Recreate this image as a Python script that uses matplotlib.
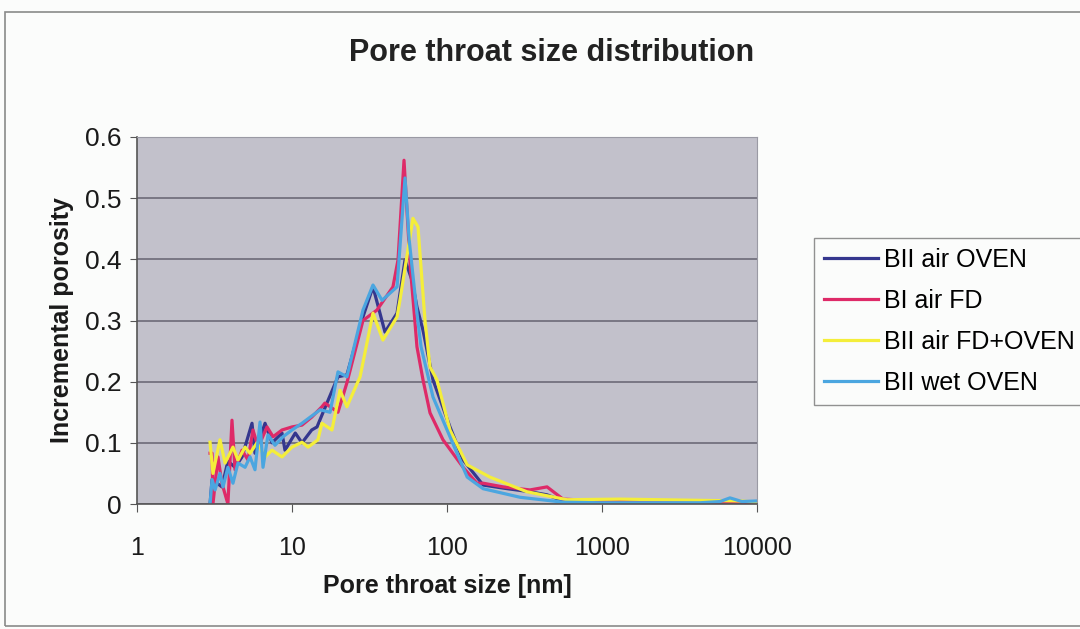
import matplotlib
matplotlib.use("Agg")
import matplotlib.pyplot as plt
from matplotlib.patches import Rectangle
from matplotlib.ticker import FixedLocator, NullLocator

plt.rcParams['font.family'] = ['Liberation Sans', 'DejaVu Sans']

# pore throat size [nm] and incremental porosity
x_air_oven = [2.96, 3.05, 3.53, 3.86, 4.29, 4.76, 5.52, 5.77, 6.70, 7.43, 8.62, 9.01,
              10.5, 11.6, 13.4, 14.5, 16.8, 19.8, 22.6, 28.7, 33.3, 39.8, 47.6, 53.6,
              59.4, 64.0, 70.0, 81.2, 104.5, 127, 171, 230, 343, 442, 560, 971, 2000,
              4290, 7770, 10000]
y_air_oven = [0.0, 0.04, 0.028, 0.07, 0.06, 0.077, 0.132, 0.083, 0.132, 0.10, 0.116, 0.088,
              0.116, 0.10, 0.121, 0.126, 0.165, 0.208, 0.211, 0.306, 0.355, 0.281, 0.312, 0.399,
              0.366, 0.322, 0.284, 0.203, 0.126, 0.072, 0.031, 0.026, 0.020, 0.015, 0.005, 0.003, 0.003,
              0.002, 0.003, 0.003]

x_bi_fd = [2.96, 3.05, 3.09, 3.33, 3.53, 3.86, 4.10, 4.29, 4.76, 5.20, 5.60, 6.05, 6.90,
           7.55, 8.62, 10.0, 11.6, 13.4, 15.6, 16.3, 19.8, 22.6, 28.7, 35.3, 44.8, 48.3,
           52.8, 58.0, 62.0, 64.0, 70.0, 77.7, 94.2, 127, 156, 171, 230, 343, 442, 560,
           971, 2000, 5000, 10000]
y_bi_fd = [0.083, 0.083, 0.0, 0.077, 0.034, 0.0, 0.137, 0.056, 0.088, 0.072, 0.121, 0.093, 0.126,
           0.11, 0.121, 0.126, 0.129, 0.142, 0.159, 0.165, 0.15, 0.198, 0.30, 0.317, 0.355, 0.399,
           0.562, 0.387, 0.30, 0.257, 0.203, 0.149, 0.105, 0.06, 0.034, 0.034, 0.028, 0.023, 0.028, 0.008,
           0.005, 0.003, 0.003, 0.003]

x_fd_oven = [2.96, 3.09, 3.43, 3.70, 4.16, 4.48, 4.98, 5.36, 5.95, 6.70, 7.43, 8.62, 10.0,
             11.6, 12.7, 14.7, 15.6, 18.1, 20.4, 22.6, 27.5, 33.3, 38.6, 47.6, 49.7, 60.3,
             65.0, 72.1, 77.7, 86.1, 104.5, 135, 189, 328, 594, 1306, 4290, 7770, 10000]
y_fd_oven = [0.101, 0.05, 0.105, 0.067, 0.093, 0.072, 0.093, 0.083, 0.10, 0.077, 0.088, 0.077, 0.093,
             0.101, 0.093, 0.105, 0.132, 0.121, 0.186, 0.159, 0.208, 0.312, 0.268, 0.306, 0.333, 0.467,
             0.453, 0.30, 0.224, 0.203, 0.121, 0.064, 0.044, 0.020, 0.007, 0.008, 0.006, 0.005, 0.003]

x_wet_oven = [2.96, 3.05, 3.19, 3.43, 3.59, 3.86, 4.16, 4.48, 4.98, 5.36, 5.77, 6.22, 6.50,
              7.00, 7.77, 8.75, 10.0, 11.6, 13.1, 15.2, 17.6, 19.8, 22.6, 28.7, 33.3, 38.1,
              47.6, 53.6, 57.0, 64.0, 68.0, 81.2, 104.5, 135, 171, 296, 560, 971, 4290,
              5770, 6690, 8000, 10000]
y_wet_oven = [0.0, 0.04, 0.023, 0.05, 0.028, 0.06, 0.034, 0.067, 0.06, 0.077, 0.056, 0.134, 0.06,
              0.113, 0.096, 0.11, 0.121, 0.132, 0.142, 0.154, 0.15, 0.216, 0.208, 0.317, 0.358, 0.333,
              0.355, 0.533, 0.432, 0.312, 0.257, 0.175, 0.11, 0.044, 0.025, 0.011, 0.003, 0.002, 0.002,
              0.004, 0.01, 0.004, 0.005]

series = [
    ("BII air OVEN", x_air_oven, y_air_oven, "#35378e"),
    ("BI air FD", x_bi_fd, y_bi_fd, "#de2a68"),
    ("BII air FD+OVEN", x_fd_oven, y_fd_oven, "#f4ee3a"),
    ("BII wet OVEN", x_wet_oven, y_wet_oven, "#4ba6e0"),
]

x_ticks = [1, 10, 100, 1000, 10000]
y_ticks = [0, 0.1, 0.2, 0.3, 0.4, 0.5, 0.6]

fig = plt.figure(figsize=(10.8, 6.29), dpi=100)
fig.patch.set_facecolor("#fbfcfb")

# outer chart border
fig.patches.append(Rectangle((5 / 1080, 3 / 629), 1.0, 614 / 629, transform=fig.transFigure,
                             fill=False, edgecolor="#8a8a8a", linewidth=1.2))

ax = fig.add_axes([137 / 1080, 1 - 504 / 629, 620 / 1080, 367 / 629])
ax.set_facecolor("#c2c1cb")

for label, xs, ys, col in series:
    ax.plot(xs, ys, color=col, linewidth=2.3, label=label)

ax.set_xscale("log")
ax.set_xlim(1, 10000)
ax.set_ylim(0, 0.6)
ax.xaxis.set_major_locator(FixedLocator(x_ticks))
ax.xaxis.set_minor_locator(NullLocator())
ax.set_xticklabels([str(v) for v in x_ticks])
ax.set_yticks(y_ticks)
ax.set_yticklabels(["0", "0.1", "0.2", "0.3", "0.4", "0.5", "0.6"])
ax.tick_params(axis="x", labelsize=18, length=6, pad=17, color="#555555", labelcolor="#1a1a1a")
ax.tick_params(axis="y", labelsize=19, length=5, pad=6, color="#555555", labelcolor="#1a1a1a")

ax.yaxis.grid(True, color="#6c6a78", linewidth=1.2)
ax.set_axisbelow(True)
for s in ["top", "right"]:
    ax.spines[s].set_color("#9a9aa4")
for s in ["left", "bottom"]:
    ax.spines[s].set_color("#555555")
    ax.spines[s].set_linewidth(1.2)

ax.set_ylabel("Incremental porosity", fontsize=18, fontweight="bold", labelpad=8, color="#1a1a1a")
ax.set_xlabel("Pore throat size [nm]", fontsize=18, fontweight="bold", labelpad=10, color="#1a1a1a")

fig.text(552 / 1080, 1 - 53 / 629, "Pore throat size distribution", fontsize=22,
         fontweight="bold", ha="center", va="center", color="#222222")

leg = ax.legend(loc="upper left", bbox_to_anchor=(814 / 1080, 1 - 238 / 629),
                bbox_transform=fig.transFigure, fontsize=18, frameon=True,
                fancybox=False, edgecolor="#777777", handlelength=2.15,
                handletextpad=0.25, labelspacing=0.68, borderpad=0.4, borderaxespad=0)
leg.get_frame().set_linewidth(1.0)
leg.get_frame().set_facecolor("#fbfcfb")

plt.savefig("out.png", dpi=100, facecolor=fig.get_facecolor())
